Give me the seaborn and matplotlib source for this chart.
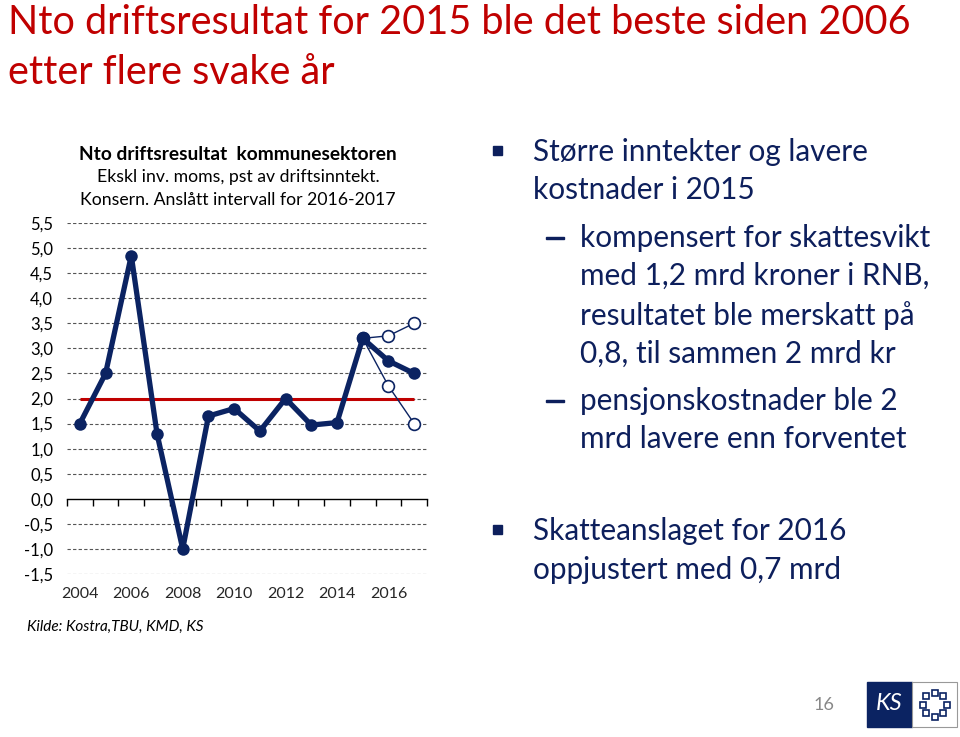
import numpy as np
import matplotlib.pyplot as plt
import matplotlib.patches as mpatches
import seaborn as sns

# data
years = [2004, 2005, 2006, 2007, 2008, 2009, 2010, 2011, 2012, 2013, 2014, 2015, 2016, 2017]
result = [1.5, 2.5, 4.85, 1.3, -1.0, 1.65, 1.8, 1.35, 2.0, 1.47, 1.52, 3.2, 2.75, 2.5]
interval_years = [2015, 2016, 2017]
upper = [3.2, 3.25, 3.5]
lower = [3.2, 2.25, 1.5]
target = 2.0
y_ticks = [-1.5, -1.0, -0.5, 0.0, 0.5, 1.0, 1.5, 2.0, 2.5, 3.0, 3.5, 4.0, 4.5, 5.0, 5.5]
x_label_years = [2004, 2006, 2008, 2010, 2012, 2014, 2016]

NAVY = "#0B2362"
TXT = "#0D1F5C"
RED = "#C00000"

sns.set_theme(style="white")
plt.rcParams["font.family"] = ["Lato", "DejaVu Sans"]

fig = plt.figure(figsize=(9.6, 7.37), dpi=100)

# slide title
fig.text(8 / 960, 1 - 22 / 737, "Nto driftsresultat for 2015 ble det beste siden 2006",
         color=RED, fontsize=28.5, va="center", ha="left")
fig.text(8 / 960, 1 - 73 / 737, "etter flere svake år",
         color=RED, fontsize=28.5, va="center", ha="left")

# chart
ax = fig.add_axes([67 / 960, 1 - 574 / 737, 360 / 960, 351 / 737])
ax.set_facecolor("white")

for v in y_ticks:
    if v != 0:
        ax.axhline(v, color="#555555", lw=0.8, ls=(0, (3, 2)), zorder=1)

ax.hlines(target, years[0], years[-1], color=RED, lw=2.2, zorder=2)

sns.lineplot(x=interval_years, y=upper, ax=ax, color=NAVY, lw=1.0, marker="o",
             markersize=8.5, markerfacecolor="white", markeredgecolor=NAVY,
             markeredgewidth=1.2, zorder=3)
sns.lineplot(x=interval_years, y=lower, ax=ax, color=NAVY, lw=1.0, marker="o",
             markersize=8.5, markerfacecolor="white", markeredgecolor=NAVY,
             markeredgewidth=1.2, zorder=3)
sns.lineplot(x=years, y=result, ax=ax, color=NAVY, lw=3.8, marker="o",
             markersize=9, markeredgewidth=0, zorder=4)

ax.set_xlim(years[0] - 0.5, years[-1] + 0.5)
ax.set_ylim(y_ticks[0], y_ticks[-1])
ax.set_yticks(y_ticks)
ax.set_yticklabels([f"{v:.1f}".replace(".", ",") for v in y_ticks], fontsize=12, color="black")
ax.tick_params(axis="y", length=0, pad=10)

for s in ["top", "right", "left"]:
    ax.spines[s].set_visible(False)
ax.spines["bottom"].set_position(("data", 0))
ax.spines["bottom"].set_color("black")
ax.spines["bottom"].set_linewidth(1.0)
ax.set_xticks(np.arange(years[0] - 0.5, years[-1] + 1, 1.0))
ax.set_xticklabels([])
ax.tick_params(axis="x", direction="out", length=5, width=1.0, color="black", bottom=True)
ax.set_xlabel("")
ax.set_ylabel("")

sec = ax.secondary_xaxis("bottom")
sec.set_xticks(x_label_years)
sec.set_xticklabels([str(y) for y in x_label_years], fontsize=11.5)
sec.tick_params(length=0, pad=9)
for s in sec.spines.values():
    s.set_visible(False)

# chart titles
fig.text(238 / 960, 1 - 154 / 737, "Nto driftsresultat  kommunesektoren",
         ha="center", va="center", fontsize=13.8, fontweight="bold", color="black")
fig.text(238 / 960, 1 - 177 / 737, "Ekskl inv. moms, pst av driftsinntekt.",
         ha="center", va="center", fontsize=12.7, color="black")
fig.text(238 / 960, 1 - 200 / 737, "Konsern. Anslått intervall for 2016-2017",
         ha="center", va="center", fontsize=12.7, color="black")

fig.text(27 / 960, 1 - 627 / 737, "Kilde: Kostra,TBU, KMD, KS",
         ha="left", va="center", fontsize=11, style="italic", color="black")

# bullet text
fs = 21.4
lines = [
    (533, 152, "Større inntekter og lavere"),
    (533, 190, "kostnader i 2015"),
    (580, 238, "kompensert for skattesvikt"),
    (580, 276, "med 1,2 mrd kroner i RNB,"),
    (580, 316, "resultatet ble merskatt på"),
    (580, 354, "0,8, til sammen 2 mrd kr"),
    (580, 401, "pensjonskostnader ble 2"),
    (580, 439, "mrd lavere enn forventet"),
    (533, 531, "Skatteanslaget for 2016"),
    (533, 570, "oppjustert med 0,7 mrd"),
]
for x, y, t in lines:
    fig.text(x / 960, 1 - y / 737, t, ha="left", va="center", fontsize=fs, color=TXT)

for y in [150, 529]:
    fig.patches.append(mpatches.Rectangle((493 / 960, 1 - (y + 5) / 737), 9 / 960, 9 / 737,
                                          transform=fig.transFigure, color=TXT))
for y in [238, 401]:
    fig.patches.append(mpatches.Rectangle((546 / 960, 1 - (y + 1) / 737), 18 / 960, 2 / 737,
                                          transform=fig.transFigure, color=TXT))

# page number and logo
fig.text(824 / 960, 1 - 705 / 737, "16", ha="center", va="center", fontsize=13, color="#888888")
fig.patches.append(mpatches.Rectangle((867 / 960, 1 - 727 / 737), 45 / 960, 45 / 737,
                                      transform=fig.transFigure, color="#0B2362"))
fig.patches.append(mpatches.Rectangle((912 / 960, 1 - 727 / 737), 45 / 960, 45 / 737,
                                      transform=fig.transFigure, facecolor="white",
                                      edgecolor="#999999", lw=0.8))
fig.text(889 / 960, 1 - 704 / 737, "KS", ha="center", va="center", fontsize=17,
         style="italic", color="white")
cx, cy, r = 934.5, 704.5, 12
for a in np.linspace(0, 2 * np.pi, 9)[:-1]:
    px, py = cx + r * np.cos(a), cy + r * np.sin(a)
    fig.patches.append(mpatches.Rectangle(((px - 3) / 960, 1 - (py + 3) / 737), 6 / 960, 6 / 737,
                                          transform=fig.transFigure, facecolor="white",
                                          edgecolor="#0B2362", lw=1.2))

fig.savefig("out.png", dpi=100)
